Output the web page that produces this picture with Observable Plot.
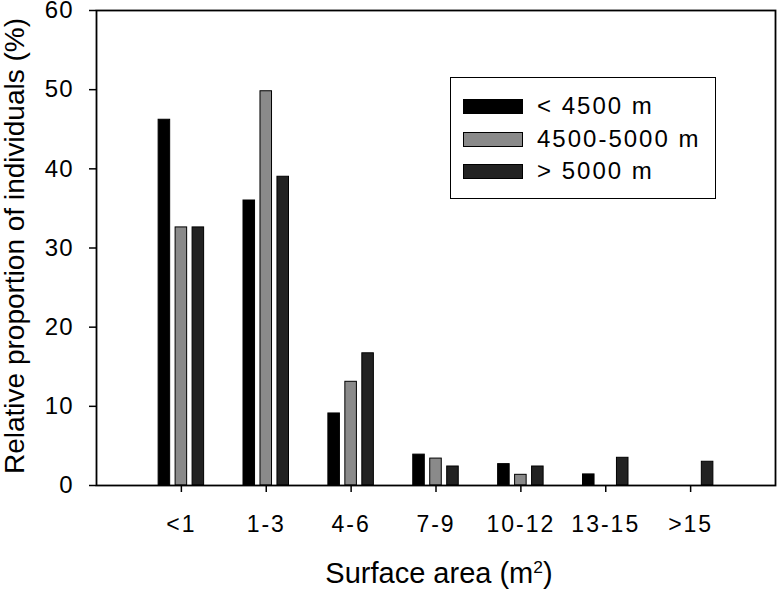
<!DOCTYPE html>
<html>
<head>
<meta charset="utf-8">
<script src="https://cdn.jsdelivr.net/npm/d3@7"></script>
<script src="https://cdn.jsdelivr.net/npm/@observablehq/plot@0.6"></script>
<style>
  html, body { margin: 0; padding: 0; background: #fff; }
  #wrap { position: relative; width: 777px; height: 590px; overflow: hidden; font-family: "Liberation Sans", Arial, sans-serif; color: #000; }
  #wrap svg { overflow: visible; }
  #legend { position: absolute; left: 450px; top: 77px; width: 266px; height: 122px; box-sizing: border-box;
            border: 1.5px solid #000; background: #fff; }
  .item { position: absolute; left: 12px; height: 30px; display: flex; align-items: center; font-size: 24px; letter-spacing: 2px; white-space: nowrap; }
  .sw { width: 60px; height: 15px; box-sizing: border-box; border: 1.5px solid #000; margin-right: 14px; }
  .title { position: absolute; font-size: 29px; line-height: 29px; white-space: nowrap; }
  .title sup { font-size: 0.6em; line-height: 0; vertical-align: 0.6em; }
</style>
</head>
<body>
<div id="wrap"></div>
<script>
const categories = ["<1", "1-3", "4-6", "7-9", "10-12", "13-15", ">15"];
const series = ["< 4500 m", "4500-5000 m", "> 5000 m"];
const colors = ["#000000", "#8a8a8a", "#222222"];
const below4500 = [46.2, 36.0, 9.1, 3.9, 2.7, 1.4, 0];
const mid4500to5000 = [32.6, 49.8, 13.1, 3.4, 1.35, 0, 0];
const above5000 = [32.6, 39.0, 16.7, 2.4, 2.4, 3.5, 3.0];
const yTicks = [0, 10, 20, 30, 40, 50, 60];

const values = [below4500, mid4500to5000, above5000];
const rows = [];
values.forEach((vals, j) => vals.forEach((v, i) => {
  if (v > 0) rows.push({cat: i + 1, s: j, value: v});
}));
const offset = 0.2, half = 0.068;

const chart = Plot.plot({
  width: 777,
  height: 590,
  marginLeft: 96,
  marginRight: 2,
  marginTop: 10,
  marginBottom: 105,
  style: {fontFamily: "Liberation Sans, Arial, sans-serif", color: "#000", background: "#fff"},
  x: {domain: [0, 8]},
  y: {domain: [0, 60]},
  marks: [
    Plot.rectY(rows, {
      x1: d => d.cat + (d.s - 1) * offset - half,
      x2: d => d.cat + (d.s - 1) * offset + half,
      y1: 0,
      y2: "value",
      fill: d => colors[d.s],
      stroke: "#000",
      strokeWidth: 1
    }),
    Plot.axisY({
      ticks: yTicks, tickSize: 7, tickPadding: 16, fontSize: 24, strokeWidth: 1.5, label: null
    }),
    Plot.axisX({
      ticks: d3.range(1, 8), tickFormat: d => categories[d - 1], tickSize: 7, tickPadding: 23, fontSize: 23, strokeWidth: 1.5, label: null
    }),
    Plot.frame({stroke: "#000", strokeWidth: 1.8})
  ]
});
chart.querySelectorAll("g[aria-label='x-axis tick label'] text").forEach(t => t.style.letterSpacing = "2px");
chart.querySelectorAll("g[aria-label='y-axis tick label'] text").forEach(t => t.style.letterSpacing = "1px");
const wrap = document.getElementById("wrap");
wrap.appendChild(chart);

const xTitle = document.createElement("div");
xTitle.className = "title";
xTitle.innerHTML = "Surface area (m<sup>2</sup>)";
xTitle.style.left = "439px";
xTitle.style.top = "559px";
xTitle.style.transform = "translateX(-50%)";
wrap.appendChild(xTitle);

const yTitle = document.createElement("div");
yTitle.className = "title";
yTitle.textContent = "Relative proportion of individuals (%)";
yTitle.style.fontSize = "28px";
yTitle.style.left = "14px";
yTitle.style.top = "246px";
yTitle.style.transform = "translate(-50%, -50%) rotate(-90deg)";
wrap.appendChild(yTitle);

const legend = document.createElement("div");
legend.id = "legend";
const tops = [13, 46, 78];
series.forEach((s, j) => {
  const it = document.createElement("div");
  it.className = "item";
  it.style.top = tops[j] + "px";
  const sw = document.createElement("div");
  sw.className = "sw";
  sw.style.background = colors[j];
  it.appendChild(sw);
  it.appendChild(document.createTextNode(s));
  legend.appendChild(it);
});
wrap.appendChild(legend);
</script>
</body>
</html>
